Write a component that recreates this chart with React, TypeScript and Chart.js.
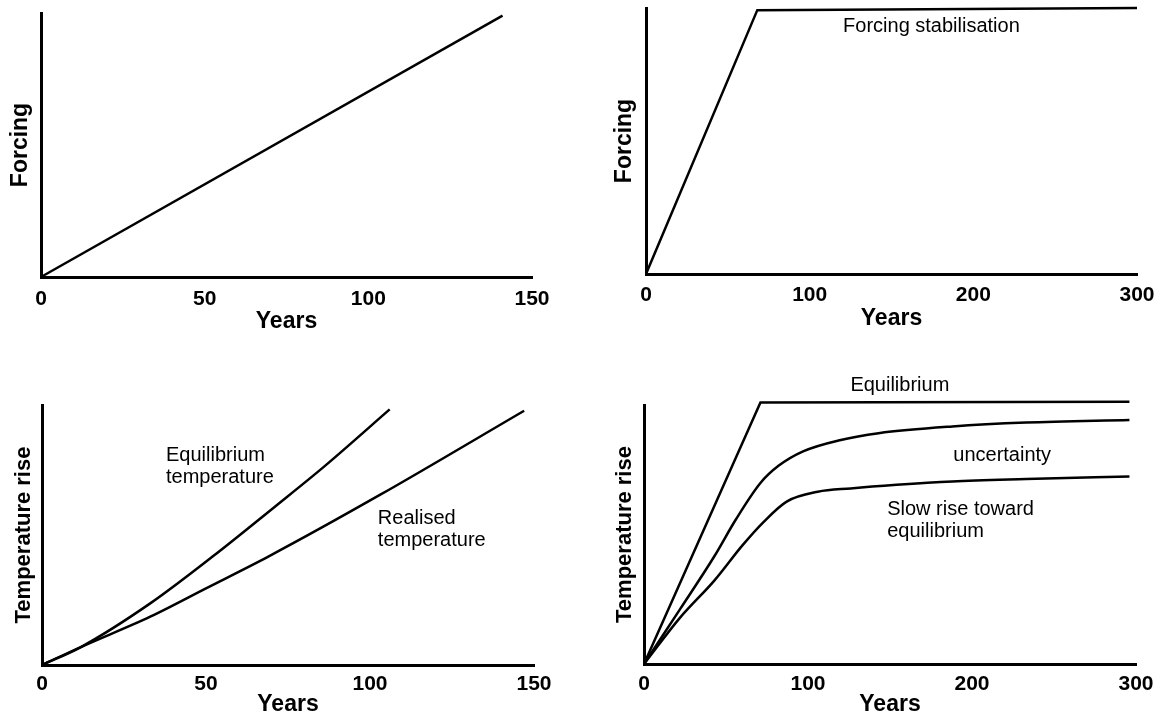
import React, { useEffect, useRef } from "react";
import { Chart, registerables } from "chart.js";

Chart.register(...registerables);

// ---- Data ----
const shortYearTicks = [0, 50, 100, 150];
const longYearTicks = [0, 100, 200, 300];

// Panel 1: steadily increasing forcing
const linearForcingYears = [0, 141];
const linearForcingValues = [0, 99];

// Panel 2: forcing stabilisation
const stabForcingYears = [0, 68, 300];
const stabForcingValues = [0, 99.2, 100];

// Panel 3: equilibrium vs realised temperature
const eqTempYears = [0, 12, 33, 52, 71, 86, 106];
const eqTempValues = [0, 7, 23.7, 41.7, 60.9, 76.3, 98.3];
const realTempYears = [0, 12, 33, 50, 69, 103, 147];
const realTempValues = [0, 7, 18.6, 29.5, 41.7, 65.4, 97.8];

// Panel 4: equilibrium and slow rise with uncertainty
const stabEqYears = [0, 71, 296];
const stabEqValues = [0, 101, 101.3];
const upperRiseYears = [0, 22, 43, 56, 71, 82, 97, 120, 143, 188, 233, 296];
const upperRiseValues = [0, 21.2, 41.7, 55.8, 69.9, 76.5, 82.1, 86.5, 89.1, 91.7, 93.2, 94.2];
const lowerRiseYears = [0, 22, 43, 60, 73, 87, 106, 126, 154, 188, 233, 296];
const lowerRiseValues = [0, 17.9, 32.3, 45.8, 54.9, 62.7, 66.5, 67.8, 69.2, 70.5, 71.4, 72.4];

// Text notes (anchored in data coordinates)
const panel2Notes = [{ text: "Forcing stabilisation", x: 174.4, y: 92.9, align: "center" }];
const panel3Notes = [
  { text: "Equilibrium", x: 37.8, y: 80.5, align: "left" },
  { text: "temperature", x: 37.8, y: 72, align: "left" },
  { text: "Realised", x: 102.4, y: 56.2, align: "left" },
  { text: "temperature", x: 102.4, y: 47.7, align: "left" },
];
const panel4Notes = [
  { text: "Equilibrium", x: 156, y: 107.7, align: "center" },
  { text: "uncertainty", x: 218.4, y: 80.4, align: "center" },
  { text: "Slow rise toward", x: 148.3, y: 59.6, align: "left" },
  { text: "equilibrium", x: 148.3, y: 51.3, align: "left" },
];

const FONT = '"Liberation Sans", Arial, Helvetica, sans-serif';

const zip = (xs: number[], ys: number[]) => xs.map((x, i) => ({ x, y: ys[i] }));

const notesPlugin = {
  id: "panelNotes",
  afterDatasetsDraw(chart: any, _args: any, opts: any) {
    const notes = (opts && opts.notes) || [];
    const { ctx } = chart;
    const xs = chart.scales.x;
    const ys = chart.scales.y;
    ctx.save();
    ctx.fillStyle = "#000";
    ctx.font = `20px ${FONT}`;
    ctx.textBaseline = "middle";
    for (const n of notes) {
      ctx.textAlign = n.align;
      ctx.fillText(n.text, xs.getPixelForValue(n.x), ys.getPixelForValue(n.y));
    }
    ctx.restore();
  },
};

type Panel = {
  left: number;
  top: number;
  width: number;
  height: number;
  padTop: number;
  padRight: number;
  yWidth: number;
  xHeight: number;
  tickPad: number;
  yTitle: string;
  yTitleSize: number;
  yTitlePad: number;
  xTitlePad: number;
  ticks: number[];
  series: { xs: number[]; ys: number[]; curved: boolean }[];
  notes: any[];
};

const panels: Panel[] = [
  {
    left: 0, top: 0, width: 582, height: 345, padTop: 13, padRight: 50,
    yWidth: 41, xHeight: 68, tickPad: 10, yTitle: "Forcing", yTitleSize: 23, yTitlePad: 9, xTitlePad: 12,
    ticks: shortYearTicks,
    series: [{ xs: linearForcingYears, ys: linearForcingValues, curved: false }],
    notes: [],
  },
  {
    left: 582, top: 0, width: 582, height: 345, padTop: 8, padRight: 27,
    yWidth: 64, xHeight: 71, tickPad: 9, yTitle: "Forcing", yTitleSize: 23, yTitlePad: 31, xTitlePad: 15,
    ticks: longYearTicks,
    series: [{ xs: stabForcingYears, ys: stabForcingValues, curved: false }],
    notes: panel2Notes,
  },
  {
    left: 0, top: 350, width: 582, height: 366, padTop: 55, padRight: 48,
    yWidth: 42, xHeight: 51, tickPad: 7, yTitle: "Temperature rise", yTitleSize: 22, yTitlePad: 13, xTitlePad: 0,
    ticks: shortYearTicks,
    series: [
      { xs: eqTempYears, ys: eqTempValues, curved: true },
      { xs: realTempYears, ys: realTempValues, curved: true },
    ],
    notes: panel3Notes,
  },
  {
    left: 582, top: 350, width: 582, height: 366, padTop: 55, padRight: 28,
    yWidth: 62, xHeight: 52, tickPad: 8, yTitle: "Temperature rise", yTitleSize: 22, yTitlePad: 32, xTitlePad: 0,
    ticks: longYearTicks,
    series: [
      { xs: stabEqYears, ys: stabEqValues, curved: false },
      { xs: upperRiseYears, ys: upperRiseValues, curved: true },
      { xs: lowerRiseYears, ys: lowerRiseValues, curved: true },
    ],
    notes: panel4Notes,
  },
];

function makeConfig(p: Panel): any {
  return {
    type: "line",
    data: {
      datasets: p.series.map((s) => ({
        data: zip(s.xs, s.ys),
        borderColor: "#000",
        borderWidth: 2.5,
        pointRadius: 0,
        fill: false,
        clip: false,
        tension: s.curved ? 0.4 : 0,
        cubicInterpolationMode: s.curved ? "monotone" : "default",
      })),
    },
    options: {
      responsive: false,
      animation: false,
      events: [],
      layout: { padding: { top: p.padTop, right: p.padRight, left: 0, bottom: 0 } },
      plugins: {
        legend: { display: false },
        tooltip: { enabled: false },
        panelNotes: { notes: p.notes },
      },
      scales: {
        x: {
          type: "linear",
          min: p.ticks[0],
          max: p.ticks[p.ticks.length - 1],
          afterBuildTicks: (scale: any) => {
            scale.ticks = p.ticks.map((v) => ({ value: v }));
          },
          afterFit: (scale: any) => {
            scale.height = p.xHeight;
          },
          grid: { display: false, drawTicks: false },
          border: { display: true, color: "#000", width: 3 },
          ticks: {
            color: "#000",
            padding: p.tickPad,
            maxRotation: 0,
            autoSkip: false,
            font: { family: FONT, size: 21, weight: "bold" },
          },
          title: {
            display: true,
            text: "Years",
            color: "#000",
            padding: { top: 0, bottom: p.xTitlePad },
            font: { family: FONT, size: 23, weight: "bold", lineHeight: 1 },
          },
        },
        y: {
          type: "linear",
          min: 0,
          max: 100,
          afterFit: (scale: any) => {
            scale.width = p.yWidth;
          },
          grid: { display: false, drawTicks: false },
          border: { display: true, color: "#000", width: 3 },
          ticks: { display: false },
          title: {
            display: true,
            text: p.yTitle,
            color: "#000",
            padding: { top: p.yTitlePad, bottom: 0 },
            font: { family: FONT, size: p.yTitleSize, weight: "bold", lineHeight: 1 },
          },
        },
      },
    },
    plugins: [notesPlugin],
  };
}

export default function App() {
  const refs = useRef<(HTMLCanvasElement | null)[]>([]);

  useEffect(() => {
    const charts = panels.map((p, i) => {
      const canvas = refs.current[i] as HTMLCanvasElement;
      return new Chart(canvas, makeConfig(p));
    });
    return () => charts.forEach((c) => c.destroy());
  }, []);

  return (
    <div style={{ position: "absolute", left: 0, top: 0, width: 1164, height: 716, background: "#fff", overflow: "hidden" }}>
      {panels.map((p, i) => (
        <canvas
          key={i}
          ref={(el) => {
            refs.current[i] = el;
          }}
          width={p.width}
          height={p.height}
          style={{ position: "absolute", left: p.left, top: p.top, width: p.width, height: p.height, display: "block" }}
        />
      ))}
    </div>
  );
}
